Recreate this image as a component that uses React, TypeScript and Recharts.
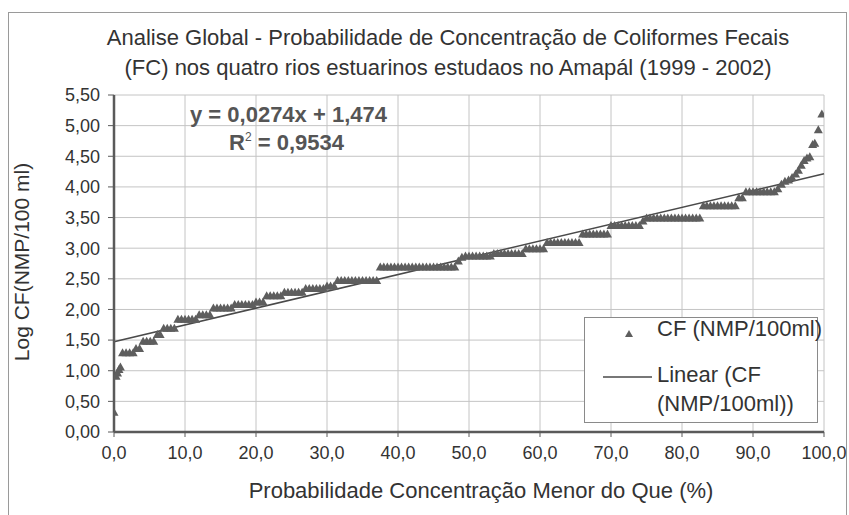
import React from 'react';
import { ComposedChart, Scatter, XAxis, YAxis, CartesianGrid, ReferenceLine } from 'recharts';

const titleLines = [
  'Analise Global - Probabilidade de Concentração de Coliformes Fecais',
  '(FC) nos quatro rios estuarinos estudaos no Amapál (1999 - 2002)',
];
const xAxisTitle = 'Probabilidade Concentração Menor do Que (%)';
const yAxisTitle = 'Log CF(NMP/100 ml)';
const seriesName = 'CF (NMP/100ml)';
const trendNameLines = ['Linear (CF', '(NMP/100ml))'];
const equationText = 'y = 0,0274x + 1,474';
const r2Label = '0,9534';

const xTicks = [0, 10, 20, 30, 40, 50, 60, 70, 80, 90, 100];
const yTicks = [0, 0.5, 1, 1.5, 2, 2.5, 3, 3.5, 4, 4.5, 5, 5.5];

const trendSlope = 0.0274;
const trendIntercept = 1.474;
const trendX = [0, 100];

const probability = [
  0.0, 0.3, 0.5, 0.7, 0.9,
  1.2, 1.7, 2.2, 2.7, 3.1, 3.6,
  4.1, 4.6, 5.1, 5.6, 6.1, 6.5,
  7.0, 7.5, 8.0, 8.5,
  9.0, 9.5, 10.0, 10.5, 11.0, 11.5,
  12.0, 12.5, 13.0, 13.5,
  14.0, 14.5, 15.0, 15.5, 16.0, 16.5,
  17.0, 17.5, 18.0, 18.5, 19.0, 19.5,
  20.0, 20.5, 21.0,
  21.5, 22.0, 22.5, 23.0, 23.5,
  24.0, 24.5, 25.0, 25.5, 26.0, 26.5,
  27.0, 27.5, 28.0, 28.5, 29.0, 29.5,
  30.0, 30.5, 31.0,
  31.5, 32.0, 32.5, 33.0, 33.5, 34.0, 34.5, 35.0, 35.5, 36.0, 36.5, 37.0,
  37.5, 38.0, 38.5, 39.0, 39.5, 40.0, 40.5, 41.0, 41.5, 42.0, 42.5,
  43.0, 43.5, 44.0, 44.5, 45.0, 45.5, 46.0, 46.5, 47.0, 47.5, 48.0,
  48.5, 49.0,
  49.5, 50.0, 50.5, 51.0, 51.5, 52.0, 52.5, 53.0,
  53.5, 54.0, 54.5, 55.0, 55.5, 56.0, 56.5, 57.0, 57.5,
  58.0, 58.5, 59.0, 59.5, 60.0, 60.5,
  61.0, 61.5, 62.0, 62.5, 63.0, 63.5, 64.0, 64.5, 65.0, 65.5,
  66.0, 66.5, 67.0, 67.5, 68.0, 68.5, 69.0, 69.5,
  70.0, 70.5, 71.0, 71.5, 72.0, 72.5, 73.0, 73.5, 74.0,
  74.5,
  75.0, 75.5, 76.0, 76.5, 77.0, 77.5, 78.0, 78.5,
  79.0, 79.5, 80.0, 80.5, 81.0, 81.5, 82.0, 82.5,
  83.0, 83.5, 84.0, 84.5, 85.0, 85.5, 86.0, 86.5, 87.0, 87.5,
  88.0, 88.5,
  89.0, 89.5, 90.0, 90.5, 91.0, 91.5, 92.0, 92.5, 93.0,
  93.5, 94.0, 94.5, 95.0, 95.5, 96.0, 96.4, 96.8,
  97.2, 97.6, 98.0, 98.4, 98.7, 99.2, 99.7,
];

const logCF = [
  0.33, 0.92, 0.97, 1.03, 1.07,
  1.30, 1.30, 1.30, 1.30, 1.37, 1.37,
  1.49, 1.49, 1.49, 1.49, 1.60, 1.60,
  1.70, 1.70, 1.70, 1.70,
  1.85, 1.85, 1.85, 1.85, 1.85, 1.85,
  1.92, 1.92, 1.92, 1.92,
  2.03, 2.03, 2.03, 2.03, 2.03, 2.03,
  2.09, 2.09, 2.09, 2.09, 2.09, 2.09,
  2.13, 2.13, 2.13,
  2.23, 2.23, 2.23, 2.23, 2.23,
  2.29, 2.29, 2.29, 2.29, 2.29, 2.29,
  2.35, 2.35, 2.35, 2.35, 2.35, 2.35,
  2.39, 2.39, 2.39,
  2.48, 2.48, 2.48, 2.48, 2.48, 2.48, 2.48, 2.48, 2.48, 2.48, 2.48, 2.48,
  2.70, 2.70, 2.70, 2.70, 2.70, 2.70, 2.70, 2.70, 2.70, 2.70, 2.70,
  2.70, 2.70, 2.70, 2.70, 2.70, 2.70, 2.70, 2.70, 2.70, 2.70, 2.70,
  2.80, 2.86,
  2.88, 2.88, 2.88, 2.88, 2.88, 2.88, 2.88, 2.88,
  2.92, 2.92, 2.92, 2.92, 2.92, 2.92, 2.92, 2.92, 2.92,
  3.00, 3.00, 3.00, 3.00, 3.00, 3.00,
  3.10, 3.10, 3.10, 3.10, 3.10, 3.10, 3.10, 3.10, 3.10, 3.10,
  3.24, 3.24, 3.24, 3.24, 3.24, 3.24, 3.24, 3.24,
  3.38, 3.38, 3.38, 3.38, 3.38, 3.38, 3.38, 3.38, 3.38,
  3.45,
  3.50, 3.50, 3.50, 3.50, 3.50, 3.50, 3.50, 3.50,
  3.50, 3.50, 3.50, 3.50, 3.50, 3.50, 3.50, 3.50,
  3.70, 3.70, 3.70, 3.70, 3.70, 3.70, 3.70, 3.70, 3.70, 3.70,
  3.83, 3.83,
  3.93, 3.93, 3.93, 3.93, 3.93, 3.93, 3.93, 3.93, 3.93,
  3.98, 4.05, 4.10, 4.12, 4.16, 4.22, 4.28, 4.36,
  4.44, 4.48, 4.50, 4.70, 4.72, 4.94, 5.20,
];

const points = probability.map((x, i) => ({ x, y: logCF[i] }));
const trendPoints = trendX.map((x) => ({ x, y: trendIntercept + trendSlope * x }));

const FONT = '"Liberation Sans", Arial, sans-serif';
const TEXT = '#333333';
const MARK = '#5e5e5e';
const TREND = '#4a4a4a';

const comma = (v: number, d: number) => v.toFixed(d).replace('.', ',');

const Triangle = (props: any) => {
  const { cx, cy } = props;
  if (cx == null || cy == null) return null;
  return <polygon points={`${cx - 4.5},${cy + 4} ${cx + 4.5},${cy + 4} ${cx},${cy - 4}`} fill={MARK} />;
};

export default function App() {
  return (
    <div style={{ position: 'fixed', left: 0, top: 0, width: 849, height: 515, background: '#fff', overflow: 'hidden' }}>
      <div
        style={{
          position: 'absolute',
          left: 8,
          top: 12,
          width: 839,
          height: 520,
          border: '1px solid #9a9a9a',
          boxSizing: 'border-box',
        }}
      />
      <div
        style={{
          position: 'absolute',
          left: 0,
          top: 23,
          width: 896,
          textAlign: 'center',
          fontFamily: FONT,
          fontSize: 22,
          lineHeight: '30px',
          color: TEXT,
          whiteSpace: 'nowrap',
        }}
      >
        {titleLines[0]}
        <br />
        {titleLines[1]}
      </div>
      <ComposedChart
        width={849}
        height={515}
        margin={{ top: 95, right: 25, bottom: 53, left: 54 }}
        style={{ position: 'absolute', left: 0, top: 0 }}
      >
        <CartesianGrid stroke="#c4c4c4" strokeWidth={1} />
        <XAxis
          type="number"
          dataKey="x"
          domain={[0, 100]}
          ticks={xTicks}
          interval={0}
          tickFormatter={(v: number) => comma(v, 1)}
          height={30}
          axisLine={{ stroke: '#5a5a5a', strokeWidth: 2.5 }}
          tickLine={{ stroke: '#5a5a5a' }}
          tickSize={5}
          tickMargin={9}
          tick={{ fill: TEXT, fontSize: 18, fontFamily: FONT }}
          allowDataOverflow
        />
        <YAxis
          type="number"
          dataKey="y"
          domain={[0, 5.5]}
          ticks={yTicks}
          interval={0}
          tickFormatter={(v: number) => comma(v, 2)}
          width={60}
          axisLine={{ stroke: '#5a5a5a', strokeWidth: 2.5 }}
          tickLine={{ stroke: '#5a5a5a' }}
          tickSize={6}
          tickMargin={8}
          tick={{ fill: TEXT, fontSize: 18, fontFamily: FONT }}
          allowDataOverflow
        />
        <ReferenceLine
          segment={[
            { x: trendPoints[0].x, y: trendPoints[0].y },
            { x: trendPoints[1].x, y: trendPoints[1].y },
          ]}
          stroke={TREND}
          strokeWidth={1.6}
          ifOverflow="visible"
        />
        <Scatter
          name={seriesName}
          data={points}
          dataKey="y"
          shape={Triangle}
          isAnimationActive={false}
        />
      </ComposedChart>
      <div
        style={{
          position: 'absolute',
          left: 584,
          top: 317,
          width: 234,
          height: 106,
          border: '1px solid #8a8a8a',
          background: '#ffffff',
          boxSizing: 'border-box',
          fontFamily: FONT,
          fontSize: 22,
          color: TEXT,
        }}
      >
        <svg width={80} height={104} style={{ position: 'absolute', left: 0, top: 0 }}>
          <polygon points="40,19 48,19 44,12" fill={MARK} />
          <line x1={18} y1={59} x2={67} y2={59} stroke={TREND} strokeWidth={1.6} />
        </svg>
        <div style={{ position: 'absolute', left: 72, top: -2, lineHeight: '26px', whiteSpace: 'nowrap' }}>{seriesName}</div>
        <div style={{ position: 'absolute', left: 72, top: 42, lineHeight: '29px', whiteSpace: 'nowrap' }}>
          {trendNameLines[0]}
          <br />
          {trendNameLines[1]}
        </div>
      </div>
      <div
        style={{
          position: 'absolute',
          left: 0,
          top: 478,
          width: 962,
          textAlign: 'center',
          fontFamily: FONT,
          fontSize: 22,
          color: TEXT,
          whiteSpace: 'nowrap',
        }}
      >
        {xAxisTitle}
      </div>
      <div
        style={{
          position: 'absolute',
          left: 22,
          top: 262,
          transform: 'translate(-50%, -50%) rotate(-90deg)',
          whiteSpace: 'nowrap',
          fontFamily: FONT,
          fontSize: 21,
          color: TEXT,
        }}
      >
        {yAxisTitle}
      </div>
      <div
        style={{
          position: 'absolute',
          left: 190,
          top: 101,
          fontFamily: FONT,
          fontSize: 22,
          fontWeight: 'bold',
          color: '#555',
          whiteSpace: 'nowrap',
          lineHeight: '28px',
        }}
      >
        <div>{equationText}</div>
        <div style={{ paddingLeft: 39 }}>
          R<span style={{ fontSize: 12, position: 'relative', top: -9, fontWeight: 'normal' }}>2</span> = {r2Label}
        </div>
      </div>
    </div>
  );
}
